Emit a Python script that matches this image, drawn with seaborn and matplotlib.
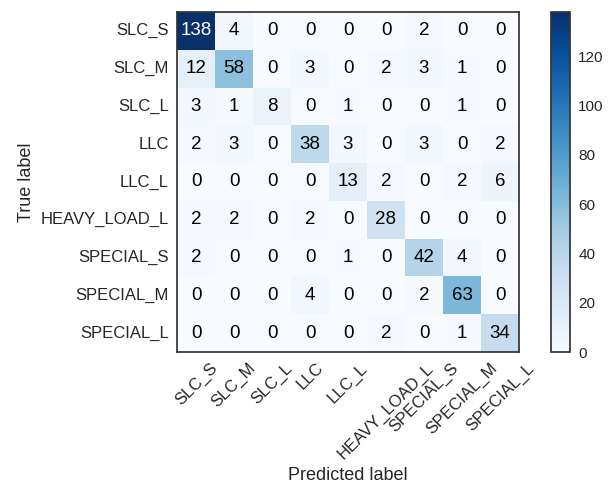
import matplotlib
matplotlib.use('Agg')

import numpy as np
import pandas as pd
import matplotlib.pyplot as plt
import seaborn as sns

# -----------------------------------------------------------------------
# confusion matrix values
# -----------------------------------------------------------------------

classes = ['SLC_S', 'SLC_M', 'SLC_L', 'LLC', 'LLC_L', 'HEAVY_LOAD_L',
           'SPECIAL_S', 'SPECIAL_M', 'SPECIAL_L']

row_slc_s = [138, 4, 0, 0, 0, 0, 2, 0, 0]
row_slc_m = [12, 58, 0, 3, 0, 2, 3, 1, 0]
row_slc_l = [3, 1, 8, 0, 1, 0, 0, 1, 0]
row_llc = [2, 3, 0, 38, 3, 0, 3, 0, 2]
row_llc_l = [0, 0, 0, 0, 13, 2, 0, 2, 6]
row_heavy = [2, 2, 0, 2, 0, 28, 0, 0, 0]
row_special_s = [2, 0, 0, 0, 1, 0, 42, 4, 0]
row_special_m = [0, 0, 0, 4, 0, 0, 2, 63, 0]
row_special_l = [0, 0, 0, 0, 0, 2, 0, 1, 34]

cbar_ticks = [0, 20, 40, 60, 80, 100, 120]

if __name__ == "__main__":

	cm = np.array([row_slc_s, row_slc_m, row_slc_l, row_llc, row_llc_l,
	               row_heavy, row_special_s, row_special_m, row_special_l])
	df_cm = pd.DataFrame(cm, index=classes, columns=classes)

	sns.set_style("white")
	plt.rcParams['font.family'] = ['Liberation Sans', 'DejaVu Sans']

	fig = plt.figure(figsize=(6.11, 4.83), dpi=100)
	ax = fig.add_axes([177 / 611, 1 - 352 / 483, 342 / 611, 340 / 483])
	cax = fig.add_axes([551 / 611, 1 - 352 / 483, 19 / 611, 340 / 483])

	sns.heatmap(df_cm, ax=ax, cbar_ax=cax, cmap='Blues', annot=True, fmt='d',
	            annot_kws={'size': 13.5}, linewidths=0, square=False,
	            cbar_kws={'ticks': cbar_ticks})

	# black text except on dark cells (like sklearn's example)
	thresh = cm.max() / 2.
	for txt in ax.texts:
		v = int(txt.get_text())
		txt.set_color('white' if v > thresh else 'black')

	for sp in ax.spines.values():
		sp.set_visible(True)
		sp.set_color('#333333')
		sp.set_linewidth(1.25)
	cbar = ax.collections[0].colorbar
	cbar.outline.set_visible(True)
	cbar.outline.set_edgecolor('#333333')
	cbar.outline.set_linewidth(1.25)

	ax.set_xticklabels(classes, rotation=45, ha='center', fontsize=12, color='#262626')
	ax.set_yticklabels(classes, rotation=0, fontsize=12, color='#262626')
	ax.tick_params(length=0, pad=6)
	cax.tick_params(length=0, labelsize=11, pad=6, colors='#262626')

	ax.set_xlabel('Predicted label', fontsize=13, color='#262626')
	ax.set_ylabel('True label', fontsize=13, color='#262626')

	fig.savefig("out.png", dpi=100)
